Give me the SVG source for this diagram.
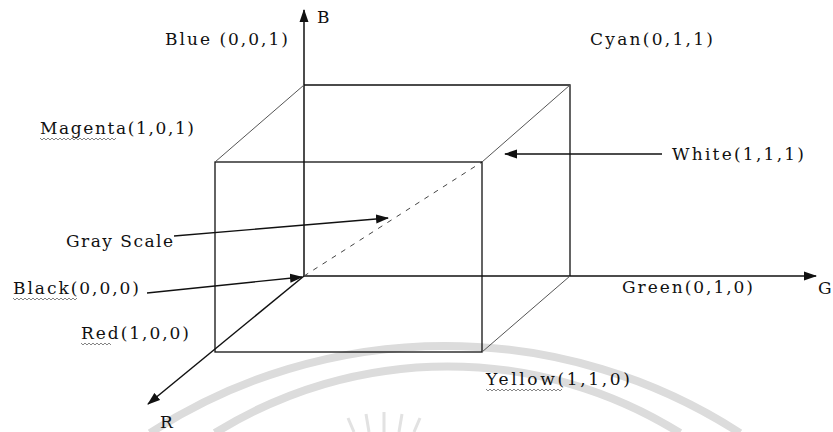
<svg xmlns="http://www.w3.org/2000/svg" width="833" height="432" viewBox="0 0 833 432">
<style>
text{font-family:"DejaVu Serif","Liberation Serif",serif;font-size:17px;fill:#111}
.edge{stroke:#111;stroke-width:1.3;fill:none}
.thin{stroke:#555;stroke-width:1;fill:none}
.axis{stroke:#111;stroke-width:1.5;fill:none}
.wm{stroke:#dcdcdc;stroke-width:8;fill:none}
.ray{stroke:#e2e2e2;stroke-width:3;fill:none}
.sq{stroke:#666;stroke-width:0.8;fill:none}
</style>
<defs>
<marker id="ah" markerWidth="13" markerHeight="10" refX="12" refY="5" orient="auto" markerUnits="userSpaceOnUse">
<path d="M0,0.5 L13,5 L0,9.5 Z" fill="#111"/>
</marker>
</defs>
<rect width="833" height="432" fill="#fff"/>
<g id="watermark">
<path class="wm" d="M150,433 A543,543 0 0 1 740,433"/>
<path class="wm" d="M215,433 A439,439 0 0 1 680,433"/>
<path class="ray" d="M348,418 L354,432 M366,414 L369,432 M384,412 L384,432 M402,414 L399,432 M420,418 L414,432"/>
</g>
<g id="connectors">
<line id="axis-b" class="axis" x1="304" y1="276" x2="304" y2="10" marker-end="url(#ah)"/>
<line id="axis-g" class="axis" x1="304" y1="276" x2="816" y2="276" marker-end="url(#ah)"/>
<line id="axis-r" class="axis" x1="304" y1="276" x2="148" y2="404" marker-end="url(#ah)"/>
<line id="gray-scale" stroke="#444" stroke-width="1" stroke-dasharray="5,6" x1="304" y1="276" x2="482" y2="162"/>
<line id="arrow-white" class="edge" x1="662" y1="154" x2="505" y2="154" marker-end="url(#ah)"/>
<line id="arrow-gray" class="edge" x1="174" y1="236" x2="388" y2="218" marker-end="url(#ah)"/>
<line id="arrow-black" class="edge" x1="147" y1="293" x2="302" y2="277" marker-end="url(#ah)"/>
</g>
<g id="cube">
<path class="edge" d="M304,85 H570 V276"/>
<rect class="edge" x="215" y="162" width="267" height="190"/>
<line class="thin" x1="304" y1="85" x2="215" y2="162"/>
<line class="thin" x1="570" y1="85" x2="482" y2="162"/>
<line class="thin" x1="570" y1="276" x2="482" y2="352"/>
</g>
<g id="node-b"><text x="317" y="23">B</text></g>
<g id="node-blue"><text x="165" y="45" textLength="123">Blue (0,0,1)</text></g>
<g id="node-cyan"><text x="590" y="45" textLength="123">Cyan(0,1,1)</text></g>
<g id="node-magenta"><text x="40" y="134" textLength="154">Magenta(1,0,1)</text>
<path class="sq" d="M40,138 l2,2 l2,-2 l2,2 l2,-2 l2,2 l2,-2 l2,2 l2,-2 l2,2 l2,-2 l2,2 l2,-2 l2,2 l2,-2 l2,2 l2,-2 l2,2 l2,-2 l2,2 l2,-2 l2,2 l2,-2 l2,2 l2,-2 l2,2 l2,-2 l2,2 l2,-2 l2,2 l2,-2 l2,2 l2,-2 l2,2 l2,-2 l2,2 l2,-2 l2,2 l2,-2"/></g>
<g id="node-white"><text x="672" y="160" textLength="132">White(1,1,1)</text></g>
<g id="node-grayscale"><text x="66" y="247" textLength="107">Gray Scale</text></g>
<g id="node-black"><text x="13" y="294" textLength="126">Black(0,0,0)</text>
<path class="sq" d="M13,298 l2,2 l2,-2 l2,2 l2,-2 l2,2 l2,-2 l2,2 l2,-2 l2,2 l2,-2 l2,2 l2,-2 l2,2 l2,-2 l2,2 l2,-2 l2,2 l2,-2 l2,2 l2,-2 l2,2 l2,-2 l2,2 l2,-2 l2,2 l2,-2 l2,2 l2,-2 l2,2 l2,-2 l2,2 l2,-2"/></g>
<g id="node-green"><text x="622" y="293" textLength="131">Green(0,1,0)</text></g>
<g id="node-g"><text x="818" y="294">G</text></g>
<g id="node-red"><text x="81" y="339" textLength="108">Red(1,0,0)</text>
<path class="sq" d="M81,343 l2,2 l2,-2 l2,2 l2,-2 l2,2 l2,-2 l2,2 l2,-2 l2,2 l2,-2 l2,2 l2,-2 l2,2 l2,-2 l2,2"/></g>
<g id="node-yellow"><text x="486" y="385" textLength="144">Yellow(1,1,0)</text>
<path class="sq" d="M486,389 l2,2 l2,-2 l2,2 l2,-2 l2,2 l2,-2 l2,2 l2,-2 l2,2 l2,-2 l2,2 l2,-2 l2,2 l2,-2 l2,2 l2,-2 l2,2 l2,-2 l2,2 l2,-2 l2,2 l2,-2 l2,2 l2,-2 l2,2 l2,-2 l2,2 l2,-2 l2,2 l2,-2 l2,2 l2,-2 l2,2 l2,-2 l2,2 l2,-2 l2,2 l2,-2"/></g>
<g id="node-r"><text x="160" y="428">R</text></g>
</svg>
